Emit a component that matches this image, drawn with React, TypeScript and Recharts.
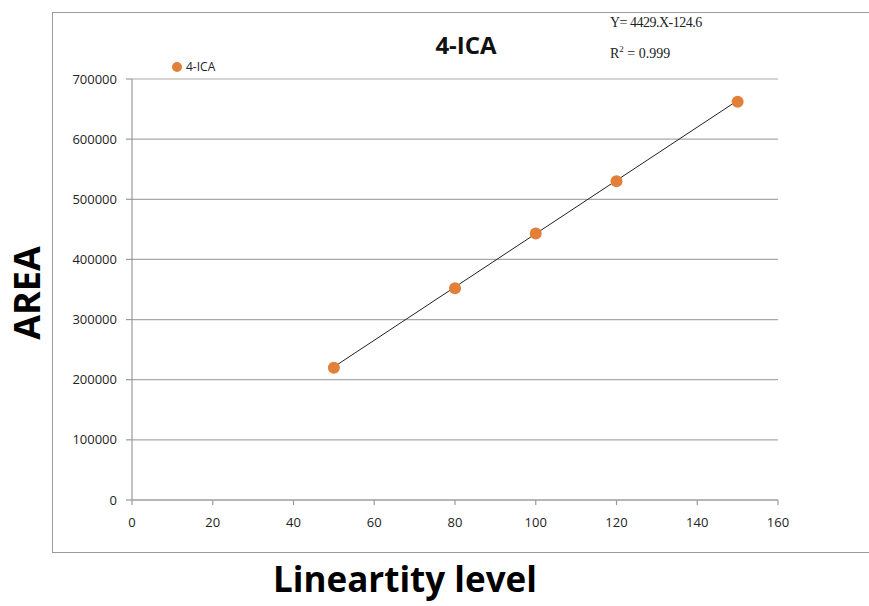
import { ScatterChart, Scatter, XAxis, YAxis, CartesianGrid } from 'recharts'

// linearity levels and measured peak areas
const levels = [50, 80, 100, 120, 150]
const areas = [220000, 352000, 443000, 530000, 662000]

// fitted line end points
const fitLevels = [50, 150]
const fitAreas = [221300, 664200]

const xTicks = [0, 20, 40, 60, 80, 100, 120, 140, 160]
const yTicks = [0, 100000, 200000, 300000, 400000, 500000, 600000, 700000]

const points = levels.map((x, i) => ({ x, y: areas[i] }))
const fit = fitLevels.map((x, i) => ({ x, y: fitAreas[i] }))

const orange = '#E2803A'
const axisGray = '#9a9a9a'
const labelFont = '"Open Sans", sans-serif'
const boldFont = '"Open Sans", sans-serif'

export default function App() {
  return (
    <div style={{ position: 'absolute', left: 0, top: 0, width: 869, height: 606, overflow: 'hidden', background: '#fff' }}>
      {/* outer frame, open on the right like the source */}
      <div
        style={{
          position: 'absolute',
          left: 52,
          top: 12,
          width: 830,
          height: 539,
          border: `1.5px solid ${axisGray}`,
        }}
      />
      <ScatterChart width={869} height={606} margin={{ top: 79, right: 91, bottom: 76, left: 62 }} style={{ position: 'absolute', left: 0, top: 0 }}>
        <CartesianGrid horizontal vertical={false} stroke="#a8a8a8" strokeWidth={1.2} />
        <XAxis
          type="number"
          dataKey="x"
          domain={[0, 160]}
          ticks={xTicks}
          height={30}
          tickSize={5}
          tickMargin={13}
          stroke={axisGray}
          strokeWidth={1.2}
          tick={{ fill: '#222', fontSize: 13, fontFamily: labelFont }}
        />
        <YAxis
          type="number"
          dataKey="y"
          domain={[0, 700000]}
          ticks={yTicks}
          width={70}
          tickSize={6}
          tickMargin={9}
          stroke={axisGray}
          strokeWidth={1.2}
          tick={{ fill: '#222', fontSize: 13, fontFamily: labelFont }}
        />
        <Scatter
          name="fit"
          data={fit}
          legendType="none"
          line={{ stroke: '#222', strokeWidth: 1 }}
          shape={() => <g />}
          isAnimationActive={false}
        />
        <Scatter name="4-ICA" data={points} fill={orange} isAnimationActive={false} shape={(p: any) => <circle cx={p.cx} cy={p.cy} r={6} fill={orange} />} />
      </ScatterChart>

      {/* legend */}
      <div style={{ position: 'absolute', left: 172, top: 58, display: 'flex', alignItems: 'center', fontFamily: labelFont, fontSize: 12, color: '#222' }}>
        <span style={{ display: 'inline-block', width: 10, height: 10, borderRadius: 5, background: orange, marginRight: 4 }} />
        4-ICA
      </div>

      <div style={{ position: 'absolute', left: 0, width: 932, top: 28, textAlign: 'center', fontFamily: boldFont, fontWeight: 700, fontSize: 24, color: '#111' }}>
        4-ICA
      </div>
      <div style={{ position: 'absolute', left: 610, top: 15, fontFamily: '"Liberation Serif", serif', fontSize: 14, color: '#222', letterSpacing: -0.5 }}>
        Y= 4429.X-124.6
      </div>
      <div style={{ position: 'absolute', left: 610, top: 44, fontFamily: '"Liberation Serif", serif', fontSize: 14, color: '#222' }}>
        R<sup style={{ fontSize: 9 }}>2</sup> = 0.999
      </div>
      <div style={{ position: 'absolute', left: 0, width: 810, top: 557, textAlign: 'center', fontFamily: boldFont, fontWeight: 700, fontSize: 35, color: '#000', lineHeight: '44px' }}>
        Lineartity level
      </div>
      <div
        style={{
          position: 'absolute',
          left: 26,
          top: 293,
          transform: 'translate(-50%, -50%) rotate(-90deg)',
          fontFamily: boldFont,
          fontWeight: 700,
          fontSize: 36,
          color: '#000',
          whiteSpace: 'nowrap',
        }}
      >
        AREA
      </div>
    </div>
  )
}
